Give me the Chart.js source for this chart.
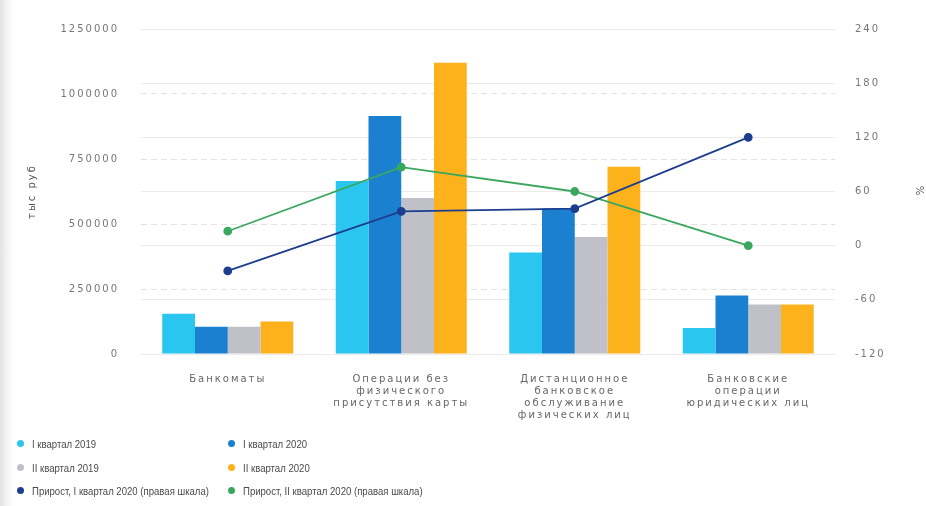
<!DOCTYPE html>
<html>
<head>
<meta charset="utf-8">
<script src="https://cdn.jsdelivr.net/npm/chart.js@4.4.1/dist/chart.umd.min.js"></script>
<style>
  body { margin: 0; width: 926px; height: 506px; overflow: hidden;
         background: linear-gradient(to right, #e2e2e2 0px, #f3f3f3 7px, #fff 14px); }
  #wrap { position: absolute; left: 0; top: 0; width: 926px; height: 430px; }
  #legend { position: absolute; left: 0; top: 0; width: 926px; height: 506px; pointer-events: none;
            font-family: "Liberation Sans", Arial, sans-serif; font-size: 11px; color: #4a4a4a; }
  .item { position: absolute; white-space: nowrap; line-height: 14px; }
  .txt { display: inline-block; transform: scaleX(0.87); transform-origin: left center; }
  .dot { position: absolute; width: 7px; height: 7px; border-radius: 50%; top: 3px; left: -15px; }
</style>
</head>
<body>
<div id="wrap"><canvas id="chart"></canvas></div>
<div id="legend"></div>
<script>
// категории и значения
const categories = [
  ["Банкоматы"],
  ["Операции без", "физического", "присутствия карты"],
  ["Дистанционное", "банковское", "обслуживание", "физических лиц"],
  ["Банковские", "операции", "юридических лиц"]
];
const q1_2019 = [155000, 665000, 390000, 100000];
const q1_2020 = [105000, 915000, 560000, 225000];
const q2_2019 = [105000, 600000, 450000, 190000];
const q2_2020 = [125000, 1120000, 720000, 190000];
const growthQ1 = [-28, 38, 41, 120];
const growthQ2 = [16, 87, 60, 0];
const leftTicks = [0, 250000, 500000, 750000, 1000000, 1250000];
const rightTicks = [-120, -60, 0, 60, 120, 180, 240];

const tickFont = { family: "'DejaVu Sans', sans-serif", size: 10 };

// шире текст, как на картинке
const spacing = {
  id: 'spacing',
  beforeUpdate(c) { c.ctx.letterSpacing = '2px'; },
  beforeLayout(c) { c.ctx.letterSpacing = '2px'; },
  beforeDraw(c) { c.ctx.letterSpacing = '2px'; }
};

const chart = new Chart(document.getElementById("chart"), {
  type: 'bar',
  data: {
    labels: categories,
    datasets: [
      { label: "I квартал 2019", backgroundColor: "#2ac6f0", data: q1_2019, yAxisID: 'y', order: 1 },
      { label: "I квартал 2020", backgroundColor: "#1b80cf", data: q1_2020, yAxisID: 'y', order: 1 },
      { label: "II квартал 2019", backgroundColor: "#c0c1c8", data: q2_2019, yAxisID: 'y', order: 1 },
      { label: "II квартал 2020", backgroundColor: "#fdb21c", data: q2_2020, yAxisID: 'y', order: 1 },
      { label: "Прирост, I квартал 2020 (правая шкала)", type: 'line', data: growthQ1, yAxisID: 'y1', order: 0,
        borderColor: "#1d3d8e", backgroundColor: "#1d3d8e", borderWidth: 1.8, pointRadius: 3.5 },
      { label: "Прирост, II квартал 2020 (правая шкала)", type: 'line', data: growthQ2, yAxisID: 'y1', order: 0,
        borderColor: "#3aa75e", backgroundColor: "#3aa75e", borderWidth: 1.8, pointRadius: 3.5 }
    ]
  },
  options: {
    responsive: true,
    maintainAspectRatio: false,
    animation: false,
    layout: { padding: { top: 29, left: 0, right: 0, bottom: 0 } },
    datasets: { bar: { categoryPercentage: 0.755, barPercentage: 1 } },
    plugins: { legend: { display: false }, tooltip: { enabled: false } },
    scales: {
      x: {
        grid: { display: false },
        border: { display: false },
        ticks: { font: { ...tickFont, lineHeight: 1.17 }, color: '#666', padding: 12, maxRotation: 0, autoSkip: false },
        afterFit: s => { s.height = 76; }
      },
      y: {
        position: 'left',
        min: 0, max: 1250000,
        afterBuildTicks: s => { s.ticks = leftTicks.map(v => ({ value: v })); },
        grid: { color: '#e3e3e3', drawTicks: false },
        border: { display: false, dash: [6, 4] },
        ticks: { font: tickFont, color: '#777', padding: 22, callback: v => String(v) },
        title: { display: true, text: 'тыс руб', font: tickFont, color: '#555', padding: { top: 26 } },
        afterFit: s => { s.width = 141; }
      },
      y1: {
        position: 'right',
        min: -120, max: 240,
        afterBuildTicks: s => { s.ticks = rightTicks.map(v => ({ value: v })); },
        grid: { color: '#ebebeb', drawTicks: false },
        border: { display: false },
        ticks: { font: tickFont, color: '#777', padding: 20, callback: v => String(v) },
        title: { display: true, text: '%', font: tickFont, color: '#555', padding: { top: 1 } },
        afterFit: s => { s.width = 91; }
      }
    }
  },
  plugins: [spacing]
});

// легенда в две колонки
const legend = document.getElementById('legend');
chart.data.datasets.forEach((ds, i) => {
  const col = i % 2, row = Math.floor(i / 2);
  const item = document.createElement('div');
  item.className = 'item';
  item.style.left = (col === 0 ? 32 : 243) + 'px';
  item.style.top = (437 + row * 23.5) + 'px';
  const txt = document.createElement('span');
  txt.className = 'txt';
  txt.textContent = ds.label;
  const dot = document.createElement('span');
  dot.className = 'dot';
  dot.style.background = ds.backgroundColor;
  item.appendChild(dot);
  item.appendChild(txt);
  legend.appendChild(item);
});
</script>
</body>
</html>
